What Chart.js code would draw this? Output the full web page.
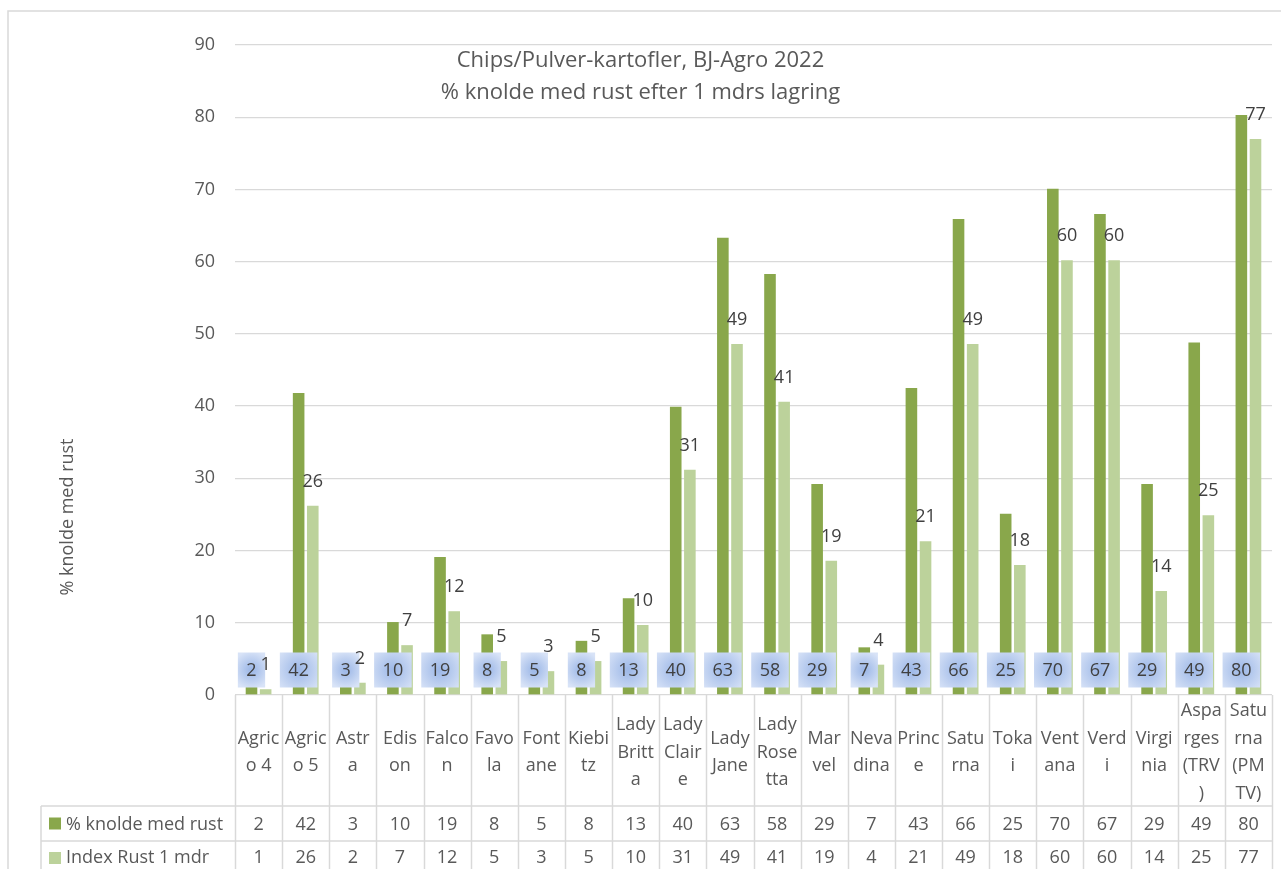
<!DOCTYPE html>
<html>
<head>
<meta charset="utf-8">
<script src="https://cdn.jsdelivr.net/npm/chart.js@4"></script>
<style>
  html, body { margin: 0; padding: 0; background: #ffffff; }
  #wrap { width: 1281px; height: 869px; position: relative; overflow: hidden; }
</style>
</head>
<body>
<div id="wrap"><canvas id="c" width="1281" height="869"></canvas></div>
<script>
const categories = ["Agrio 4","Agrio 5","Astra","Edison","Falcon","Favola","Fontane","Kiebitz","Lady Britta","Lady Claire","Lady Jane","Lady Rosetta","Marvel","Nevadina","Prince","Saturna","Tokai","Ventana","Verdi","Virginia","Asparges (TRV)","Saturna (PMTV)"];
const categoryLines = [["Agric","o 4"],["Agric","o 5"],["Astr","a"],["Edis","on"],["Falco","n"],["Favo","la"],["Font","ane"],["Kiebi","tz"],["Lady","Britt","a"],["Lady","Clair","e"],["Lady","Jane"],["Lady","Rose","tta"],["Mar","vel"],["Neva","dina"],["Princ","e"],["Satu","rna"],["Toka","i"],["Vent","ana"],["Verd","i"],["Virgi","nia"],["Aspa","rges","(TRV",")"],["Satu","rna","(PM","TV)"]];
const seriesNames = ["% knolde med rust", "Index Rust 1 mdr"];
const rustPct = [2.2, 41.8, 2.9, 10.1, 19.1, 8.4, 5.0, 7.5, 13.4, 39.9, 63.3, 58.3, 29.2, 6.6, 42.5, 65.9, 25.1, 70.1, 66.6, 29.2, 48.8, 80.3];
const indexRust = [0.8, 26.2, 1.7, 6.9, 11.6, 4.7, 3.3, 4.7, 9.7, 31.2, 48.6, 40.6, 18.6, 4.2, 21.3, 48.6, 18.0, 60.2, 60.2, 14.4, 24.9, 77.0];
const yTicks = [0, 10, 20, 30, 40, 50, 60, 70, 80, 90];
const titleLines = ["Chips/Pulver-kartofler, BJ-Agro 2022", "% knolde med rust efter 1 mdrs lagring"];
const yTitle = "% knolde med rust";

const FONT = "'Open Sans', 'Noto Sans', sans-serif";
const DARK = "#89a74b";
const LIGHT = "#bcd29b";
const GRID = "#d9d9d9";
const TXT = "#595959";
const LBL = "#404040";

const extras = {
  id: "extras",
  afterDatasetsDraw(chart) {
    const ctx = chart.ctx;
    const area = chart.chartArea;

    // dark series labels in blue glow boxes near base
    ctx.save();
    ctx.font = "18px " + FONT;
    chart.getDatasetMeta(0).data.forEach((bar, i) => {
      const t = String(Math.round(rustPct[i]));
      const w = ctx.measureText(t).width + 17;
      const h = 35;
      const cx = bar.x, cy = area.bottom - 25;
      const g = ctx.createRadialGradient(cx, cy, 2, cx, cy, w * 0.7);
      g.addColorStop(0, "rgba(160,186,232,1)");
      g.addColorStop(1, "rgba(216,227,247,1)");
      ctx.fillStyle = g;
      ctx.fillRect(cx - w / 2, cy - h / 2, w, h);
      ctx.fillStyle = LBL;
      ctx.textAlign = "center";
      ctx.textBaseline = "middle";
      ctx.fillText(t, cx, cy + 1);
    });
    ctx.restore();

    // light series labels above bars (drawn on top)
    ctx.save();
    ctx.font = "18px " + FONT;
    ctx.fillStyle = LBL;
    ctx.textAlign = "center";
    ctx.textBaseline = "middle";
    chart.getDatasetMeta(1).data.forEach((bar, i) => {
      ctx.fillText(String(Math.round(indexRust[i])), bar.x, bar.y - 24);
    });
    ctx.restore();
  },
  afterDraw(chart) {
    const ctx = chart.ctx;
    const area = chart.chartArea;
    const xs = chart.scales.x;
    const n = categories.length;
    const colW = (area.right - area.left) / n;
    const W = chart.width, H = chart.height;

    // outer chart border
    ctx.save();
    ctx.strokeStyle = GRID;
    ctx.lineWidth = 1.5;
    ctx.strokeRect(8, 11, W + 20, H + 20);
    ctx.restore();

    // title
    ctx.save();
    ctx.font = "22px " + FONT;
    ctx.fillStyle = TXT;
    ctx.textAlign = "center";
    ctx.textBaseline = "middle";
    ctx.fillText(titleLines[0], W / 2, area.top + 16);
    ctx.fillText(titleLines[1], W / 2, area.top + 48);
    ctx.restore();

    // y title
    ctx.save();
    ctx.font = "18px " + FONT;
    ctx.fillStyle = TXT;
    ctx.textAlign = "center";
    ctx.textBaseline = "middle";
    ctx.translate(68, 517);
    ctx.rotate(-Math.PI / 2);
    ctx.fillText(yTitle, 0, 0);
    ctx.restore();

    // data table
    const top = area.bottom;
    const r1 = top + 111;
    const r2 = r1 + 35;
    const legLeft = 41;
    ctx.save();
    ctx.strokeStyle = GRID;
    ctx.lineWidth = 1.5;
    ctx.beginPath();
    for (let i = 0; i <= n; i++) {
      const x = Math.round(area.left + i * colW) + 0.5;
      ctx.moveTo(x, top);
      ctx.lineTo(x, H + 5);
    }
    ctx.moveTo(legLeft, r1); ctx.lineTo(legLeft, H + 5);
    ctx.moveTo(legLeft, r1); ctx.lineTo(area.right, r1);
    ctx.moveTo(legLeft, r2); ctx.lineTo(area.right, r2);
    ctx.stroke();

    ctx.font = "18px " + FONT;
    ctx.fillStyle = TXT;
    ctx.textAlign = "center";
    ctx.textBaseline = "middle";
    const lh = 27.5;
    const midCat = (top + r1) / 2 + 2;
    categoryLines.forEach((lines, i) => {
      const cx = xs.getPixelForValue(i);
      const y0 = midCat - (lines.length - 1) * lh / 2;
      lines.forEach((ln, k) => ctx.fillText(ln, cx, y0 + k * lh));
      ctx.fillText(String(Math.round(rustPct[i])), cx, (r1 + r2) / 2 + 1);
      ctx.fillText(String(Math.round(indexRust[i])), cx, r2 + 17);
    });

    // legend keys in table
    ctx.textAlign = "left";
    ctx.fillStyle = DARK;
    ctx.fillRect(49, (r1 + r2) / 2 - 6, 12, 12);
    ctx.fillStyle = LIGHT;
    ctx.fillRect(49, r2 + 17 - 6, 12, 12);
    ctx.fillStyle = TXT;
    ctx.fillText(seriesNames[0], 66, (r1 + r2) / 2 + 1);
    ctx.fillText(seriesNames[1], 66, r2 + 17);
    ctx.restore();
  }
};

new Chart(document.getElementById("c"), {
  type: "bar",
  data: {
    labels: categories,
    datasets: [
      { label: seriesNames[0], data: rustPct, backgroundColor: DARK, barPercentage: 0.82, categoryPercentage: 0.6 },
      { label: seriesNames[1], data: indexRust, backgroundColor: LIGHT, barPercentage: 0.82, categoryPercentage: 0.6 }
    ]
  },
  options: {
    responsive: false,
    animation: false,
    devicePixelRatio: 1,
    layout: { padding: { left: 175, right: 9, top: 45, bottom: 174 } },
    plugins: { legend: { display: false }, tooltip: { enabled: false }, title: { display: false } },
    scales: {
      x: { display: false },
      y: {
        min: 0, max: 90,
        afterFit: s => { s.width = 60; },
        afterBuildTicks: s => { s.ticks = yTicks.map(v => ({ value: v })); },
        border: { display: false },
        grid: { color: GRID, lineWidth: 1.3, drawTicks: false },
        ticks: { padding: 20, color: TXT, font: { family: FONT, size: 18 } }
      }
    }
  },
  plugins: [extras]
});
</script>
</body>
</html>
